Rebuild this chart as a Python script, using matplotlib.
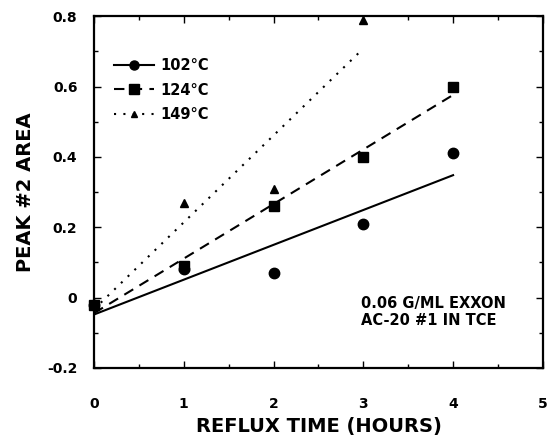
import numpy as np
import matplotlib
matplotlib.use("Agg")
import matplotlib.pyplot as plt
from matplotlib.ticker import MultipleLocator, FuncFormatter

plt.rcParams['font.family'] = ['DejaVu Sans']
plt.rcParams['font.weight'] = 'bold'

x_102 = [0, 1, 2, 3, 4]
y_102 = [-0.02, 0.08, 0.07, 0.21, 0.41]
x_124 = [0, 1, 2, 3, 4]
y_124 = [-0.02, 0.09, 0.26, 0.40, 0.60]
x_149 = [0, 1, 2, 3]
y_149 = [-0.02, 0.27, 0.31, 0.79]
labels = ['102°C', '124°C', '149°C']

fig = plt.figure(figsize=(5.5, 4.36), dpi=100)
ax = fig.add_axes([0.171, 0.156, 0.816, 0.807])

series = [
    (x_102, y_102, 'o', '-', 7.5, 3),
    (x_124, y_124, 's', (0, (5, 3.5)), 7.5, 5),
    (x_149, y_149, '^', (0, (1, 3.5)), 6.0, 4),
]
handles = []
for (xs, ys, mk, ls, ms, z), lab in zip(series, labels):
    xs = np.array(xs, float); ys = np.array(ys, float)
    k, b = np.polyfit(xs, ys, 1)
    xf = np.array([xs.min(), xs.max()])
    ax.plot(xf, k * xf + b, color='black', linestyle=ls, lw=1.5, zorder=2)
    ax.plot(xs, ys, linestyle='none', marker=mk, color='black', ms=ms,
            clip_on=False, zorder=z)
    h, = ax.plot([], [], color='black', linestyle=ls, lw=1.5, marker=mk,
                 ms=ms - 1, label=lab)
    handles.append(h)

ax.set_xlim(0, 5)
ax.set_ylim(-0.2, 0.8)
ax.xaxis.set_major_locator(MultipleLocator(1))
ax.xaxis.set_minor_locator(MultipleLocator(0.5))
ax.yaxis.set_major_locator(MultipleLocator(0.2))
ax.yaxis.set_minor_locator(MultipleLocator(0.1))

def yfmt(v, pos):
    if abs(v) < 1e-9:
        return '0'
    return f'{v:.1f}'
ax.yaxis.set_major_formatter(FuncFormatter(yfmt))
ax.xaxis.set_major_formatter(FuncFormatter(lambda v, p: f'{int(round(v))}'))

ax.tick_params(which='both', direction='in', top=True, right=True, width=1)
ax.tick_params(which='major', length=5, labelsize=10)
ax.tick_params(which='minor', length=3)
ax.tick_params(axis='x', which='major', pad=21)
ax.tick_params(axis='y', which='major', pad=12)
for lbl in ax.get_xticklabels() + ax.get_yticklabels():
    lbl.set_fontweight('bold')
for s in ax.spines.values():
    s.set_linewidth(1.6)

ax.set_xlabel('REFLUX TIME (HOURS)', fontsize=14, fontweight='bold', labelpad=4)
ax.set_ylabel('PEAK #2 AREA', fontsize=14, fontweight='bold', labelpad=9)

leg = ax.legend(handles=handles, loc='upper left', bbox_to_anchor=(0.045, 0.882),
                frameon=False, handlelength=2.7, handletextpad=0.45,
                labelspacing=0.68, borderpad=0, borderaxespad=0,
                prop={'weight': 'bold', 'size': 10.5})

ax.text(0.595, 0.205, '0.06 G/ML EXXON\nAC-20 #1 IN TCE', transform=ax.transAxes,
        fontsize=10.5, fontweight='bold', va='top', ha='left', linespacing=1.15)

fig.savefig('out.png', dpi=100)
